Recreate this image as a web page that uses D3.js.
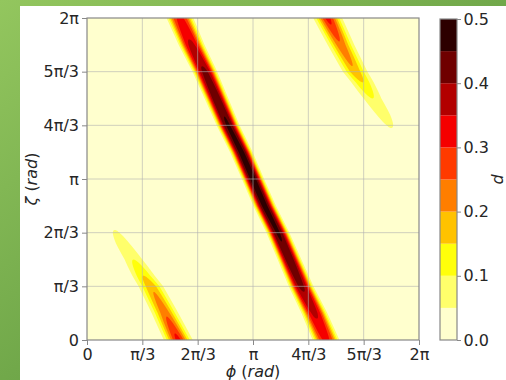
<!DOCTYPE html>
<html>
<head>
<meta charset="utf-8">
<script src="https://cdn.jsdelivr.net/npm/d3@7"></script>
<style>
  html, body { margin: 0; padding: 0; }
  body { width: 506px; height: 380px; overflow: hidden; font-family: "DejaVu Sans", sans-serif; }
  text { fill: #262626; }
</style>
</head>
<body>
<div id="chart"></div>
<script>
// axis ticks, in units of pi
const tickValues = [0, 1/3, 2/3, 1, 4/3, 5/3, 2];
const tickLabels = ['0', 'π/3', '2π/3', 'π', '4π/3', '5π/3', '2π'];

// contour levels of d and the colour of each band
const levels = [0, 0.05, 0.1, 0.15, 0.2, 0.25, 0.3, 0.35, 0.4, 0.45, 0.5];
const bandColors = ['#ffffce', '#ffff6b', '#ffff0a', '#ffc200', '#ff7e00',
                    '#ff3a00', '#f50000', '#b20000', '#6f0000', '#2c0000'];
const cbarTicks = [0, 0.1, 0.2, 0.3, 0.4, 0.5];

// ridges (zeta and phi in units of pi):
// crest position, crest value and half width along zeta
const mainZeta  = [0, 1/6, 1/3, 1/2, 2/3, 5/6, 1, 7/6, 4/3, 3/2, 5/3, 11/6, 2];
const mainPhi   = [1.44, 1.37, 1.29, 1.22, 1.15, 1.07, 1.00, 0.93, 0.85, 0.78, 0.71, 0.63, 0.56];
const mainPeak  = [0.31, 0.36, 0.41, 0.44, 0.455, 0.465, 0.47, 0.465, 0.455, 0.44, 0.41, 0.36, 0.31];
const mainWidth = [0.066, 0.062, 0.058, 0.055, 0.053, 0.052, 0.051, 0.052, 0.053, 0.055, 0.058, 0.062, 0.066];

const upperZeta  = [1.2, 1.25, 1.333, 1.4, 1.5, 1.6, 1.667, 1.833, 2];
const upperPhi   = [1.9, 1.865, 1.825, 1.785, 1.72, 1.66, 1.615, 1.53, 1.45];
const upperPeak  = [0, 0.03, 0.055, 0.075, 0.10, 0.15, 0.19, 0.24, 0.32];
const upperWidth = [0.064, 0.064, 0.064, 0.064, 0.064, 0.064, 0.064, 0.064, 0.064];

const lowerZeta  = [0, 0.167, 0.333, 0.4, 0.5, 0.6, 0.667, 0.75, 0.8];
const lowerPhi   = [0.55, 0.47, 0.385, 0.34, 0.28, 0.215, 0.175, 0.135, 0.1];
const lowerPeak  = [0.32, 0.24, 0.19, 0.15, 0.10, 0.075, 0.055, 0.03, 0];
const lowerWidth = [0.064, 0.064, 0.064, 0.064, 0.064, 0.064, 0.064, 0.064, 0.064];

const ridges = [
  {zeta: mainZeta, phi: mainPhi, peak: mainPeak, width: mainWidth, shape: 3},
  {zeta: upperZeta, phi: upperPhi, peak: upperPeak, width: upperWidth, shape: 2},
  {zeta: lowerZeta, phi: lowerPhi, peak: lowerPeak, width: lowerWidth, shape: 2}
];

const margin = {top: 18, left: 87};
const width = 332, height = 322;
const cbar = {left: 440, top: 19, width: 17, height: 321};

const svg = d3.select('#chart').append('svg')
  .attr('width', 506)
  .attr('height', 380);

// slide background
const bg = svg.append('defs').append('linearGradient')
  .attr('id', 'bg')
  .attr('x1', '0%').attr('y1', '0%')
  .attr('x2', '100%').attr('y2', '100%');
bg.append('stop').attr('offset', '0%').attr('stop-color', '#93c65e');
bg.append('stop').attr('offset', '100%').attr('stop-color', '#4f8a36');
svg.append('rect').attr('width', 506).attr('height', 380).attr('fill', 'url(#bg)');
svg.append('rect').attr('x', 20).attr('y', 6).attr('width', 486).attr('height', 374).attr('fill', '#fff');

svg.select('defs').append('clipPath').attr('id', 'plotclip')
  .append('rect').attr('width', width).attr('height', height);

const x = d3.scaleLinear().domain([0, 2]).range([0, width]);
const y = d3.scaleLinear().domain([0, 2]).range([height, 0]);

// build the field on a pixel grid from the ridge descriptions
const values = new Float64Array(width * height);
ridges.forEach(r => {
  const cPhi = d3.scaleLinear().domain(r.zeta).range(r.phi).clamp(true);
  const cPeak = d3.scaleLinear().domain(r.zeta).range(r.peak).clamp(true);
  const cWidth = d3.scaleLinear().domain(r.zeta).range(r.width).clamp(true);
  for (let j = 0; j < height; j++) {
    const z = y.invert(j + 0.5);
    const c = cPhi(z), p = cPeak(z), w = cWidth(z);
    if (p <= 0) continue;
    for (let i = 0; i < width; i++) {
      const u = Math.abs((x.invert(i + 0.5) - c) / w);
      values[j * width + i] += p * Math.exp(-Math.pow(u, r.shape));
    }
  }
});

const g = svg.append('g')
  .attr('transform', `translate(${margin.left},${margin.top})`);

const contours = d3.contours()
  .size([width, height])
  .thresholds(levels.slice(0, -1))(values);

g.append('g')
  .attr('clip-path', 'url(#plotclip)')
  .selectAll('path')
  .data(contours)
  .enter().append('path')
  .attr('d', d3.geoPath())
  .attr('fill', (d, i) => bandColors[i]);

// grid
const inner = tickValues.slice(1, -1);
g.append('g').selectAll('line').data(inner).enter().append('line')
  .attr('x1', d => x(d)).attr('x2', d => x(d))
  .attr('y1', 0).attr('y2', height)
  .attr('stroke', '#b0b0b0').attr('stroke-opacity', 0.6);
g.append('g').selectAll('line').data(inner).enter().append('line')
  .attr('y1', d => y(d)).attr('y2', d => y(d))
  .attr('x1', 0).attr('x2', width)
  .attr('stroke', '#b0b0b0').attr('stroke-opacity', 0.6);

g.append('rect')
  .attr('width', width).attr('height', height)
  .attr('fill', 'none').attr('stroke', '#888').attr('stroke-width', 1.2);

const styleAxis = sel => {
  sel.select('.domain').remove();
  sel.selectAll('.tick line').attr('stroke', '#888');
  sel.selectAll('.tick text').attr('font-size', 16).attr('fill', '#262626')
    .attr('font-family', '"DejaVu Sans", sans-serif');
};

g.append('g')
  .attr('transform', `translate(0,${height})`)
  .call(d3.axisBottom(x).tickValues(tickValues).tickFormat((d, i) => tickLabels[i])
    .tickSize(5).tickPadding(3.5))
  .call(styleAxis);

g.append('g')
  .call(d3.axisLeft(y).tickValues(tickValues).tickFormat((d, i) => tickLabels[i])
    .tickSize(5).tickPadding(3))
  .call(styleAxis);

// axis labels
const xl = svg.append('text')
  .attr('x', margin.left + width / 2).attr('y', 377)
  .attr('text-anchor', 'middle').attr('font-size', 16);
xl.append('tspan').attr('font-style', 'italic').text('ϕ');
xl.append('tspan').text(' (');
xl.append('tspan').attr('font-style', 'italic').text('rad');
xl.append('tspan').text(')');

const yl = svg.append('text')
  .attr('transform', `translate(37,${margin.top + height / 2}) rotate(-90)`)
  .attr('text-anchor', 'middle').attr('font-size', 16);
yl.append('tspan').attr('font-style', 'italic').text('ζ');
yl.append('tspan').text(' (');
yl.append('tspan').attr('font-style', 'italic').text('rad');
yl.append('tspan').text(')');

// colorbar
const yc = d3.scaleLinear().domain([0, 0.5]).range([cbar.height, 0]);
const cb = svg.append('g').attr('transform', `translate(${cbar.left},${cbar.top})`);
cb.selectAll('rect.band')
  .data(bandColors)
  .enter().append('rect')
  .attr('class', 'band')
  .attr('x', 0)
  .attr('width', cbar.width)
  .attr('y', (d, i) => yc(levels[i + 1]))
  .attr('height', (d, i) => yc(levels[i]) - yc(levels[i + 1]))
  .attr('fill', d => d);
cb.append('rect')
  .attr('width', cbar.width).attr('height', cbar.height)
  .attr('fill', 'none').attr('stroke', '#888').attr('stroke-width', 1.2);
cb.append('g')
  .attr('transform', `translate(${cbar.width},0)`)
  .call(d3.axisRight(yc).tickValues(cbarTicks).tickFormat(d3.format('.1f'))
    .tickSize(4).tickPadding(2.5))
  .call(styleAxis);

svg.append('text')
  .attr('transform', `translate(503,${cbar.top + cbar.height / 2}) rotate(-90)`)
  .attr('text-anchor', 'middle').attr('font-size', 16).attr('font-style', 'italic')
  .text('d');
</script>
</body>
</html>
